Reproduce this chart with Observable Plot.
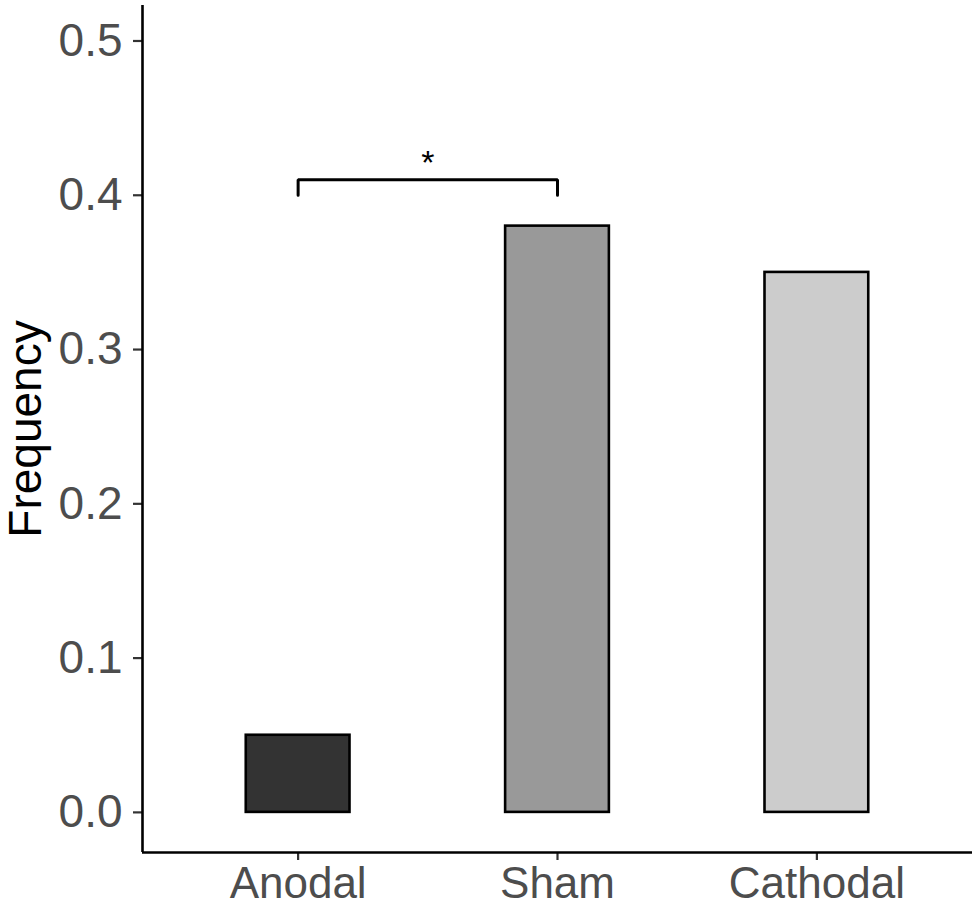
<!DOCTYPE html>
<html>
<head>
<meta charset="utf-8">
<script src="https://cdn.jsdelivr.net/npm/d3@7"></script>
<script src="https://cdn.jsdelivr.net/npm/@observablehq/plot@0.6"></script>
<style>
  html, body { margin: 0; padding: 0; background: #fff; }
  svg { font-family: "Liberation Sans", Arial, sans-serif; }
</style>
</head>
<body>
<div id="chart"></div>
<script>
const categories = ["Anodal", "Sham", "Cathodal"];
const frequencies = [0.05, 0.38, 0.35];
const fills = ["#333333", "#999999", "#CCCCCC"];
const yTicks = [0, 0.1, 0.2, 0.3, 0.4, 0.5];
const bracketFrom = "Anodal";
const bracketTo = "Sham";
const bracketLow = 0.40;
const bracketHigh = 0.41;
const sigLabel = "*";

const data = categories.map((c, i) => ({cat: c, pos: i + 1, value: frequencies[i], fill: fills[i]}));
const p1 = categories.indexOf(bracketFrom) + 1;
const p2 = categories.indexOf(bracketTo) + 1;
const bracket = [
  {x: p1, y: bracketLow}, {x: p1, y: bracketHigh},
  {x: p2, y: bracketHigh}, {x: p2, y: bracketLow}
];

const xDomain = [0.4, categories.length + 0.6];
const yDomain = [-0.026, 0.523];

const chart = Plot.plot({
  width: 977,
  height: 908,
  marginLeft: 142,
  marginRight: 5,
  marginTop: 5,
  marginBottom: 56,
  style: {fontFamily: '"Liberation Sans", Arial, sans-serif', background: "#fff"},
  x: {type: "linear", domain: xDomain},
  y: {domain: yDomain},
  marks: [
    Plot.rectY(data, {
      x1: d => d.pos - 0.2, x2: d => d.pos + 0.2,
      y1: 0, y2: "value",
      fill: d => d.fill, stroke: "#000", strokeWidth: 2.6
    }),
    Plot.line(bracket, {x: "x", y: "y", stroke: "#000", strokeWidth: 3, strokeLinejoin: "miter"}),
    Plot.text([sigLabel], {x: (p1 + p2) / 2, y: bracketHigh, text: d => d, fontSize: 34, lineAnchor: "bottom", dy: -6, fill: "#000"}),
    Plot.axisY({
      ticks: yTicks, tickFormat: d3.format(".1f"), tickSize: 9, tickPadding: 11,
      fontSize: 46, color: "#4D4D4D", stroke: "#333", strokeWidth: 2.2, label: null
    }),
    Plot.axisX({
      ticks: categories.map((c, i) => i + 1), tickFormat: d => categories[d - 1],
      tickSize: 8, tickPadding: 6, fontSize: 44, color: "#4D4D4D", stroke: "#333", strokeWidth: 2.2, label: null
    }),
    Plot.ruleX([xDomain[0]], {stroke: "#000", strokeWidth: 2.6}),
    Plot.ruleY([yDomain[0]], {stroke: "#000", strokeWidth: 2.6}),
    Plot.text(["Frequency"], {frameAnchor: "left", textAnchor: "middle", dx: -116, rotate: -90, fontSize: 46, fill: "#000"})
  ]
});
document.getElementById("chart").appendChild(chart);
</script>
</body>
</html>
